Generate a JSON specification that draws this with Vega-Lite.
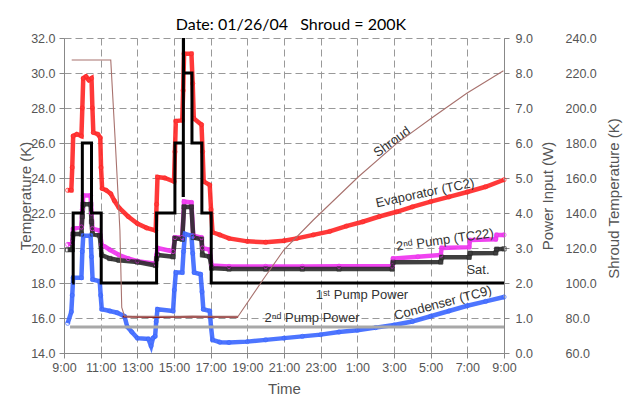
{
"$schema": "https://vega.github.io/schema/vega-lite/v6.json",
"width": 440, "height": 315,
"autosize": "none",
"padding": {"left": 64, "top": 38, "right": 121, "bottom": 49},
"background": "white",
"config": {"view": {"stroke": null}},
"title": {"text": "Date: 01/26/04\u00a0\u00a0\u00a0Shroud = 200K", "anchor": "middle", "frame": "group", "font": "Lato", "fontSize": 16, "fontWeight": "normal", "color": "black", "baseline": "alphabetic", "offset": 7, "dx": 7, "dy": 21},
"datasets": {
"temps": [
{"h":0.2,"T":23.3,"s":"Evaporator (TC2)"},{"h":0.4,"T":23.3,"s":"Evaporator (TC2)"},{"h":0.45,"T":24.6,"s":"Evaporator (TC2)"},{"h":0.5,"T":26.4,"s":"Evaporator (TC2)"},{"h":0.7,"T":26.5,"s":"Evaporator (TC2)"},{"h":0.95,"T":26.4,"s":"Evaporator (TC2)"},{"h":1.0,"T":28.0,"s":"Evaporator (TC2)"},{"h":1.05,"T":29.7,"s":"Evaporator (TC2)"},{"h":1.2,"T":29.8,"s":"Evaporator (TC2)"},{"h":1.35,"T":29.6,"s":"Evaporator (TC2)"},{"h":1.5,"T":29.7,"s":"Evaporator (TC2)"},{"h":1.55,"T":28.0,"s":"Evaporator (TC2)"},{"h":1.6,"T":26.6,"s":"Evaporator (TC2)"},{"h":1.85,"T":26.5,"s":"Evaporator (TC2)"},{"h":1.98,"T":26.3,"s":"Evaporator (TC2)"},{"h":2.02,"T":24.6,"s":"Evaporator (TC2)"},{"h":2.08,"T":23.4,"s":"Evaporator (TC2)"},{"h":2.3,"T":23.3,"s":"Evaporator (TC2)"},{"h":2.55,"T":23.1,"s":"Evaporator (TC2)"},{"h":2.75,"T":22.7,"s":"Evaporator (TC2)"},{"h":3.0,"T":22.3,"s":"Evaporator (TC2)"},{"h":3.5,"T":21.8,"s":"Evaporator (TC2)"},{"h":4.0,"T":21.4,"s":"Evaporator (TC2)"},{"h":4.5,"T":21.15,"s":"Evaporator (TC2)"},{"h":5.0,"T":21.0,"s":"Evaporator (TC2)"},{"h":5.05,"T":22.5,"s":"Evaporator (TC2)"},{"h":5.1,"T":24.05,"s":"Evaporator (TC2)"},{"h":5.5,"T":24.0,"s":"Evaporator (TC2)"},{"h":6.0,"T":23.8,"s":"Evaporator (TC2)"},{"h":6.05,"T":25.5,"s":"Evaporator (TC2)"},{"h":6.1,"T":27.25,"s":"Evaporator (TC2)"},{"h":6.45,"T":27.3,"s":"Evaporator (TC2)"},{"h":6.5,"T":29.0,"s":"Evaporator (TC2)"},{"h":6.55,"T":31.1,"s":"Evaporator (TC2)"},{"h":6.95,"T":31.1,"s":"Evaporator (TC2)"},{"h":7.02,"T":29.4,"s":"Evaporator (TC2)"},{"h":7.08,"T":27.4,"s":"Evaporator (TC2)"},{"h":7.5,"T":27.05,"s":"Evaporator (TC2)"},{"h":7.56,"T":25.5,"s":"Evaporator (TC2)"},{"h":7.62,"T":23.8,"s":"Evaporator (TC2)"},{"h":7.95,"T":23.6,"s":"Evaporator (TC2)"},{"h":8.02,"T":22.2,"s":"Evaporator (TC2)"},{"h":8.1,"T":20.9,"s":"Evaporator (TC2)"},{"h":8.5,"T":20.75,"s":"Evaporator (TC2)"},{"h":9.0,"T":20.55,"s":"Evaporator (TC2)"},{"h":10.0,"T":20.38,"s":"Evaporator (TC2)"},{"h":11.0,"T":20.33,"s":"Evaporator (TC2)"},{"h":12.0,"T":20.42,"s":"Evaporator (TC2)"},{"h":12.7,"T":20.55,"s":"Evaporator (TC2)"},{"h":13.6,"T":20.75,"s":"Evaporator (TC2)"},{"h":14.5,"T":20.95,"s":"Evaporator (TC2)"},{"h":15.4,"T":21.25,"s":"Evaporator (TC2)"},{"h":16.3,"T":21.5,"s":"Evaporator (TC2)"},{"h":17.2,"T":21.8,"s":"Evaporator (TC2)"},{"h":18.15,"T":22.07,"s":"Evaporator (TC2)"},{"h":19.0,"T":22.35,"s":"Evaporator (TC2)"},{"h":20.0,"T":22.65,"s":"Evaporator (TC2)"},{"h":21.0,"T":22.92,"s":"Evaporator (TC2)"},{"h":22.0,"T":23.2,"s":"Evaporator (TC2)"},{"h":23.0,"T":23.5,"s":"Evaporator (TC2)"},{"h":24.0,"T":23.9,"s":"Evaporator (TC2)"},

{"h":0.2,"T":20.2,"s":"2nd Pump (TC22)"},{"h":0.45,"T":20.3,"s":"2nd Pump (TC22)"},{"h":0.5,"T":21.1,"s":"2nd Pump (TC22)"},{"h":0.95,"T":21.2,"s":"2nd Pump (TC22)"},{"h":1.0,"T":22.2,"s":"2nd Pump (TC22)"},{"h":1.05,"T":23.0,"s":"2nd Pump (TC22)"},{"h":1.45,"T":23.0,"s":"2nd Pump (TC22)"},{"h":1.5,"T":22.0,"s":"2nd Pump (TC22)"},{"h":1.55,"T":21.1,"s":"2nd Pump (TC22)"},{"h":1.95,"T":21.0,"s":"2nd Pump (TC22)"},{"h":2.05,"T":20.2,"s":"2nd Pump (TC22)"},{"h":2.5,"T":19.9,"s":"2nd Pump (TC22)"},{"h":3.0,"T":19.6,"s":"2nd Pump (TC22)"},{"h":3.5,"T":19.4,"s":"2nd Pump (TC22)"},{"h":4.0,"T":19.25,"s":"2nd Pump (TC22)"},{"h":5.0,"T":19.1,"s":"2nd Pump (TC22)"},{"h":5.05,"T":19.6,"s":"2nd Pump (TC22)"},{"h":5.1,"T":20.0,"s":"2nd Pump (TC22)"},{"h":5.95,"T":19.8,"s":"2nd Pump (TC22)"},{"h":6.05,"T":20.6,"s":"2nd Pump (TC22)"},{"h":6.45,"T":20.6,"s":"2nd Pump (TC22)"},{"h":6.55,"T":22.65,"s":"2nd Pump (TC22)"},{"h":6.95,"T":22.6,"s":"2nd Pump (TC22)"},{"h":7.05,"T":20.7,"s":"2nd Pump (TC22)"},{"h":7.5,"T":20.6,"s":"2nd Pump (TC22)"},{"h":7.55,"T":20.0,"s":"2nd Pump (TC22)"},{"h":7.95,"T":19.9,"s":"2nd Pump (TC22)"},{"h":8.05,"T":19.0,"s":"2nd Pump (TC22)"},{"h":9.0,"T":18.95,"s":"2nd Pump (TC22)"},{"h":11.0,"T":18.95,"s":"2nd Pump (TC22)"},{"h":13.0,"T":18.95,"s":"2nd Pump (TC22)"},{"h":15.0,"T":18.96,"s":"2nd Pump (TC22)"},{"h":17.9,"T":18.97,"s":"2nd Pump (TC22)"},{"h":17.95,"T":19.4,"s":"2nd Pump (TC22)"},{"h":19.3,"T":19.5,"s":"2nd Pump (TC22)"},{"h":20.55,"T":19.6,"s":"2nd Pump (TC22)"},{"h":20.6,"T":20.0,"s":"2nd Pump (TC22)"},{"h":22.1,"T":20.05,"s":"2nd Pump (TC22)"},{"h":22.15,"T":20.45,"s":"2nd Pump (TC22)"},{"h":23.55,"T":20.5,"s":"2nd Pump (TC22)"},{"h":23.6,"T":20.75,"s":"2nd Pump (TC22)"},{"h":24.0,"T":20.75,"s":"2nd Pump (TC22)"},

{"h":0.2,"T":19.9,"s":"Sat."},{"h":0.45,"T":19.9,"s":"Sat."},{"h":0.5,"T":20.8,"s":"Sat."},{"h":0.95,"T":20.8,"s":"Sat."},{"h":1.0,"T":21.8,"s":"Sat."},{"h":1.05,"T":22.5,"s":"Sat."},{"h":1.45,"T":22.5,"s":"Sat."},{"h":1.5,"T":21.5,"s":"Sat."},{"h":1.55,"T":20.8,"s":"Sat."},{"h":1.95,"T":20.7,"s":"Sat."},{"h":2.05,"T":19.6,"s":"Sat."},{"h":2.5,"T":19.4,"s":"Sat."},{"h":3.0,"T":19.3,"s":"Sat."},{"h":4.0,"T":19.2,"s":"Sat."},{"h":5.0,"T":19.0,"s":"Sat."},{"h":5.05,"T":19.4,"s":"Sat."},{"h":5.1,"T":19.6,"s":"Sat."},{"h":5.95,"T":19.5,"s":"Sat."},{"h":6.05,"T":20.55,"s":"Sat."},{"h":6.45,"T":20.5,"s":"Sat."},{"h":6.55,"T":22.35,"s":"Sat."},{"h":6.95,"T":22.35,"s":"Sat."},{"h":7.05,"T":20.6,"s":"Sat."},{"h":7.5,"T":20.5,"s":"Sat."},{"h":7.55,"T":19.6,"s":"Sat."},{"h":7.95,"T":19.5,"s":"Sat."},{"h":8.05,"T":18.85,"s":"Sat."},{"h":9.0,"T":18.8,"s":"Sat."},{"h":11.0,"T":18.8,"s":"Sat."},{"h":13.0,"T":18.8,"s":"Sat."},{"h":15.0,"T":18.8,"s":"Sat."},{"h":17.9,"T":18.8,"s":"Sat."},{"h":17.95,"T":19.18,"s":"Sat."},{"h":20.55,"T":19.2,"s":"Sat."},{"h":20.6,"T":19.47,"s":"Sat."},{"h":22.1,"T":19.47,"s":"Sat."},{"h":22.15,"T":19.7,"s":"Sat."},{"h":23.55,"T":19.72,"s":"Sat."},{"h":23.6,"T":19.93,"s":"Sat."},{"h":24.0,"T":19.95,"s":"Sat."},

{"h":0.2,"T":15.7,"s":"Condenser (TC9)"},{"h":0.4,"T":16.35,"s":"Condenser (TC9)"},{"h":0.45,"T":17.3,"s":"Condenser (TC9)"},{"h":0.5,"T":18.3,"s":"Condenser (TC9)"},{"h":0.95,"T":18.3,"s":"Condenser (TC9)"},{"h":1.0,"T":19.8,"s":"Condenser (TC9)"},{"h":1.05,"T":20.7,"s":"Condenser (TC9)"},{"h":1.45,"T":20.7,"s":"Condenser (TC9)"},{"h":1.5,"T":19.5,"s":"Condenser (TC9)"},{"h":1.56,"T":18.2,"s":"Condenser (TC9)"},{"h":1.95,"T":18.1,"s":"Condenser (TC9)"},{"h":2.0,"T":17.3,"s":"Condenser (TC9)"},{"h":2.06,"T":16.5,"s":"Condenser (TC9)"},{"h":2.5,"T":16.4,"s":"Condenser (TC9)"},{"h":2.9,"T":16.3,"s":"Condenser (TC9)"},{"h":3.3,"T":16.1,"s":"Condenser (TC9)"},{"h":3.45,"T":15.5,"s":"Condenser (TC9)"},{"h":3.7,"T":15.2,"s":"Condenser (TC9)"},{"h":4.0,"T":14.85,"s":"Condenser (TC9)"},{"h":4.6,"T":14.8,"s":"Condenser (TC9)"},{"h":4.75,"T":14.4,"s":"Condenser (TC9)"},{"h":4.85,"T":14.85,"s":"Condenser (TC9)"},{"h":4.97,"T":14.95,"s":"Condenser (TC9)"},{"h":5.03,"T":15.8,"s":"Condenser (TC9)"},{"h":5.1,"T":16.5,"s":"Condenser (TC9)"},{"h":5.95,"T":16.4,"s":"Condenser (TC9)"},{"h":6.02,"T":17.6,"s":"Condenser (TC9)"},{"h":6.1,"T":18.6,"s":"Condenser (TC9)"},{"h":6.45,"T":18.6,"s":"Condenser (TC9)"},{"h":6.52,"T":19.8,"s":"Condenser (TC9)"},{"h":6.6,"T":20.8,"s":"Condenser (TC9)"},{"h":6.95,"T":20.7,"s":"Condenser (TC9)"},{"h":7.02,"T":19.7,"s":"Condenser (TC9)"},{"h":7.1,"T":18.6,"s":"Condenser (TC9)"},{"h":7.45,"T":18.5,"s":"Condenser (TC9)"},{"h":7.53,"T":17.5,"s":"Condenser (TC9)"},{"h":7.6,"T":16.5,"s":"Condenser (TC9)"},{"h":7.95,"T":16.4,"s":"Condenser (TC9)"},{"h":8.02,"T":15.5,"s":"Condenser (TC9)"},{"h":8.1,"T":14.75,"s":"Condenser (TC9)"},{"h":8.5,"T":14.62,"s":"Condenser (TC9)"},{"h":9.0,"T":14.6,"s":"Condenser (TC9)"},{"h":10.0,"T":14.65,"s":"Condenser (TC9)"},{"h":11.0,"T":14.75,"s":"Condenser (TC9)"},{"h":12.0,"T":14.85,"s":"Condenser (TC9)"},{"h":13.0,"T":14.95,"s":"Condenser (TC9)"},{"h":14.0,"T":15.05,"s":"Condenser (TC9)"},{"h":15.0,"T":15.2,"s":"Condenser (TC9)"},{"h":16.0,"T":15.3,"s":"Condenser (TC9)"},{"h":17.0,"T":15.45,"s":"Condenser (TC9)"},{"h":18.0,"T":15.6,"s":"Condenser (TC9)"},{"h":19.0,"T":15.8,"s":"Condenser (TC9)"},{"h":20.0,"T":16.1,"s":"Condenser (TC9)"},{"h":21.0,"T":16.4,"s":"Condenser (TC9)"},{"h":22.0,"T":16.7,"s":"Condenser (TC9)"},{"h":23.0,"T":16.95,"s":"Condenser (TC9)"},{"h":24.0,"T":17.2,"s":"Condenser (TC9)"}
],
"power": [
{"h":0.33,"W":0.74,"s":"Base"},{"h":24.0,"W":0.74,"s":"Base"},
{"h":3.2,"W":1.04,"s":"2nd Pump Power"},{"h":5.0,"W":1.02,"s":"2nd Pump Power"},{"h":7.0,"W":1.04,"s":"2nd Pump Power"},{"h":9.5,"W":1.03,"s":"2nd Pump Power"},
{"h":0.45,"W":2.0,"s":"1st Pump Power"},{"h":0.5,"W":4.0,"s":"1st Pump Power"},{"h":1.0,"W":6.0,"s":"1st Pump Power"},{"h":1.5,"W":4.0,"s":"1st Pump Power"},{"h":2.03,"W":2.0,"s":"1st Pump Power"},{"h":5.05,"W":4.0,"s":"1st Pump Power"},{"h":6.05,"W":6.0,"s":"1st Pump Power"},{"h":6.5,"W":4.5,"s":"1st Pump Power"},{"h":6.51,"W":9.05,"s":"1st Pump Power"},{"h":6.52,"W":8.0,"s":"1st Pump Power"},{"h":6.98,"W":6.0,"s":"1st Pump Power"},{"h":7.52,"W":4.0,"s":"1st Pump Power"},{"h":8.03,"W":2.0,"s":"1st Pump Power"},{"h":24.0,"W":2.0,"s":"1st Pump Power"}
],
"shroud": [
{"h":0.42,"K":227.4},{"h":2.55,"K":227.4},{"h":2.8,"K":180},{"h":3.05,"K":130},{"h":3.15,"K":86},{"h":3.3,"K":81},{"h":6.0,"K":81},{"h":9.5,"K":81},{"h":10.86,"K":102},{"h":12.0,"K":119},{"h":13.6,"K":136},{"h":16.06,"K":160.7},{"h":18.15,"K":179.8},{"h":20.15,"K":195},{"h":21.97,"K":208.4},{"h":23.97,"K":221.3}
],
"labels": [
{"text":"Shroud","h":17.89,"T":26.06},
{"text":"Evaporator (TC2)","h":19.69,"T":23.14},
{"text":"2\u207f\u1d48 Pump (TC22)","h":20.78,"T":20.46},
{"text":"Sat.","h":22.58,"T":18.74},
{"text":"1\u02e2\u1d57 Pump Power","h":16.25,"T":17.31},
{"text":"Condenser (TC9)","h":20.67,"T":16.85},
{"text":"2\u207f\u1d48 Pump Power","h":13.53,"T":16.0}
]
},
"encoding": {
"x": {"field": "h", "type": "quantitative", "scale": {"domain": [0, 24], "nice": false, "zero": false},
 "axis": {"values": [0,2,4,6,8,10,12,14,16,18,20,22,24], "labelExpr": "((datum.value + 9) % 24) + ':00'", "title": "Time",
  "grid": true, "gridDash": [7,4], "gridColor": "#999", "gridWidth": 1,
  "domainColor": "#888", "tickColor": "#888", "tickSize": 5, "labelPadding": 3,
  "labelFont": "Liberation Sans", "labelFontSize": 12.5, "labelColor": "#555", "labelFlush": false, "labelOverlap": false,
  "titleFont": "Liberation Sans", "titleFontSize": 15, "titleFontWeight": "normal", "titleColor": "#555",
  "titleX": 220, "titleY": 35, "titleBaseline": "middle"}}
},
"layer": [
{
 "encoding": {"y": {"field": "T", "type": "quantitative", "scale": {"domain": [14, 32], "nice": false, "zero": false},
  "axis": {"orient": "left", "values": [14,16,18,20,22,24,26,28,30,32], "format": ".1f", "title": "Temperature (K)",
   "grid": true, "gridDash": [7,4], "gridColor": "#999", "gridWidth": 1,
   "domainColor": "#888", "tickColor": "#888", "tickSize": 5, "labelPadding": 4,
   "labelFont": "Liberation Sans", "labelFontSize": 12.5, "labelColor": "#555",
   "titleFont": "Liberation Sans", "titleFontSize": 15, "titleFontWeight": "normal", "titleColor": "#555",
   "titleX": -39, "titleY": 157.5, "titleAngle": 270, "titleBaseline": "middle", "titleAlign": "center"}}},
 "layer": [
  {"data": {"name": "temps"}, "mark": {"type": "line", "strokeWidth": 4.5, "opacity": 0.9},
   "encoding": {"color": {"field": "s", "type": "nominal", "legend": null,
     "scale": {"domain": ["Evaporator (TC2)", "2nd Pump (TC22)", "Sat.", "Condenser (TC9)"], "range": ["#ff2424", "#ee30ee", "#2a2a2a", "#3a66ff"]}}}},
  {"data": {"name": "temps"}, "mark": {"type": "point", "filled": false, "size": 18, "strokeWidth": 1},
   "encoding": {"color": {"field": "s", "type": "nominal", "legend": null,
     "scale": {"domain": ["Evaporator (TC2)", "2nd Pump (TC22)", "Sat.", "Condenser (TC9)"], "range": ["#ff2424", "#ee30ee", "#2a2a2a", "#3a66ff"]}},
    "shape": {"field": "s", "type": "nominal", "legend": null,
     "scale": {"domain": ["Evaporator (TC2)", "2nd Pump (TC22)", "Sat.", "Condenser (TC9)"], "range": ["circle", "circle", "square", "circle"]}}}},
  {"data": {"name": "labels"}, "transform": [{"filter": "datum.text == 'Shroud'"}],
   "mark": {"type": "text", "angle": -36, "font": "Liberation Sans", "fontSize": 13, "color": "#333", "align": "center", "baseline": "middle"},
   "encoding": {"text": {"field": "text"}}},
  {"data": {"name": "labels"}, "transform": [{"filter": "datum.text == 'Evaporator (TC2)'"}],
   "mark": {"type": "text", "angle": -12, "font": "Liberation Sans", "fontSize": 13, "color": "#333", "align": "center", "baseline": "middle"},
   "encoding": {"text": {"field": "text"}}},
  {"data": {"name": "labels"}, "transform": [{"filter": "indexof(datum.text, '(TC22)') >= 0"}],
   "mark": {"type": "text", "angle": -8, "font": "Liberation Sans", "fontSize": 13, "color": "#333", "align": "center", "baseline": "middle"},
   "encoding": {"text": {"field": "text"}}},
  {"data": {"name": "labels"}, "transform": [{"filter": "datum.text == 'Condenser (TC9)'"}],
   "mark": {"type": "text", "angle": -15, "font": "Liberation Sans", "fontSize": 13, "color": "#333", "align": "center", "baseline": "middle"},
   "encoding": {"text": {"field": "text"}}},
  {"data": {"name": "labels"}, "transform": [{"filter": "datum.text == 'Sat.' || indexof(datum.text, 'Power') >= 0"}],
   "mark": {"type": "text", "font": "Liberation Sans", "fontSize": 13, "color": "#333", "align": "center", "baseline": "middle"},
   "encoding": {"text": {"field": "text"}}}
 ]
},
{
 "data": {"name": "power"},
 "encoding": {"y": {"field": "W", "type": "quantitative", "scale": {"domain": [0, 9], "nice": false, "zero": false},
  "axis": {"orient": "right", "values": [0,1,2,3,4,5,6,7,8,9], "format": ".1f", "title": "Power Input (W)", "grid": false,
   "domainColor": "#888", "tickColor": "#888", "tickSize": 5, "labelPadding": 6,
   "labelFont": "Liberation Sans", "labelFontSize": 12.5, "labelColor": "#555",
   "titleFont": "Liberation Sans", "titleFontSize": 15, "titleFontWeight": "normal", "titleColor": "#555",
   "titleX": 43, "titleY": 157.5, "titleAngle": 270, "titleBaseline": "middle", "titleAlign": "center"}}},
 "layer": [
  {"transform": [{"filter": "datum.s == 'Base'"}], "mark": {"type": "line", "color": "#a8a8a8", "strokeWidth": 3}},
  {"transform": [{"filter": "datum.s == '2nd Pump Power'"}], "mark": {"type": "line", "color": "#8b1c1c", "strokeWidth": 1.6}},
  {"transform": [{"filter": "datum.s == '1st Pump Power'"}], "mark": {"type": "line", "color": "black", "strokeWidth": 3, "interpolate": "step-after", "clip": true}}
 ]
},
{
 "data": {"name": "shroud"},
 "mark": {"type": "line", "color": "#a8726e", "strokeWidth": 1.1, "clip": true},
 "encoding": {"y": {"field": "K", "type": "quantitative", "scale": {"domain": [60, 240], "nice": false, "zero": false},
  "axis": {"orient": "right", "offset": 61, "values": [60,80,100,120,140,160,180,200,220,240], "format": ".1f", "title": "Shroud Temperature (K)", "grid": false,
   "domain": false, "ticks": false, "tickSize": 0, "labelPadding": 0,
   "labelFont": "Liberation Sans", "labelFontSize": 12.5, "labelColor": "#555",
   "titleFont": "Liberation Sans", "titleFontSize": 15, "titleFontWeight": "normal", "titleColor": "#555",
   "titleX": 48, "titleY": 160, "titleAngle": 270, "titleBaseline": "middle", "titleAlign": "center"}}}
}
],
"resolve": {"scale": {"y": "independent"}}
}
